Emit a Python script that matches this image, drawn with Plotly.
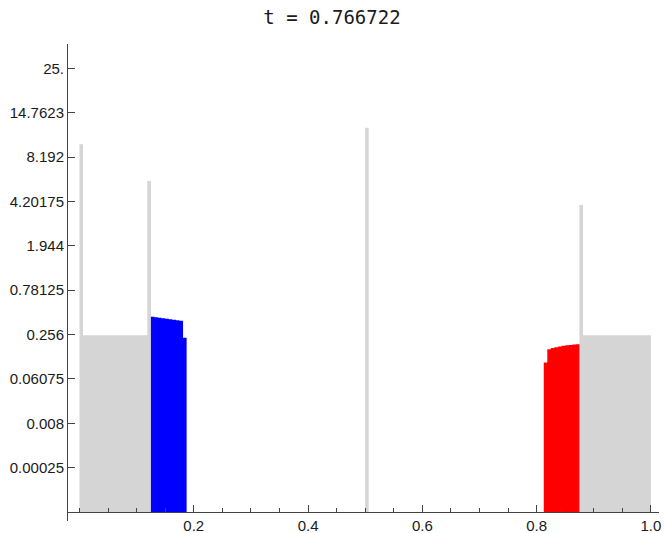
import plotly.graph_objects as go

# ---- data ----
title_text = "t = 0.766722"

# gray cells: edges and values (zero where empty)
gray_edges = [0.0, 0.00625, 0.11875, 0.125, 0.5, 0.50625, 0.875, 0.88125, 1.0]
gray_vals = [9.79, 0.25, 5.78, 0.0, 12.18, 0.0, 3.97, 0.25]

# blue cells (0.125 .. 0.1875)
blue_edges = [0.125, 0.13125, 0.1375, 0.14375, 0.15, 0.15625, 0.1625, 0.16875, 0.175, 0.18125, 0.1875]
blue_vals = [0.412, 0.407, 0.402, 0.397, 0.392, 0.387, 0.382, 0.377, 0.372, 0.234]

# red cells (0.8125 .. 0.875)
red_edges = [0.8125, 0.81875, 0.825, 0.83125, 0.8375, 0.84375, 0.85, 0.85625, 0.8625, 0.86875, 0.875]
red_vals = [0.109, 0.166, 0.172, 0.177, 0.181, 0.184, 0.187, 0.189, 0.191, 0.193]

ytick_values = [0.00025, 0.008, 0.06075, 0.256, 0.78125, 1.944, 4.20175, 8.192, 14.7623, 25.0]
ytick_labels = ["0.00025", "0.008", "0.06075", "0.256", "0.78125", "1.944", "4.20175", "8.192", "14.7623", "25."]
xtick_values = [0.2, 0.4, 0.6, 0.8, 1.0]
xtick_labels = ["0.2", "0.4", "0.6", "0.8", "1.0"]


def tr(v):
    # power scale used by the chart: position ~ (4000*y)^(1/5)
    return (4000.0 * v) ** 0.2


def step_trace(edges, vals, color):
    xs = list(edges)
    us = [tr(v) for v in vals] + [tr(vals[-1])]
    return go.Scatter(
        x=xs, y=us, mode="lines", line=dict(width=0, shape="hv", color=color),
        fill="tozeroy", fillcolor=color, hoverinfo="skip", showlegend=False,
    )


fig = go.Figure()
fig.add_trace(step_trace(gray_edges, gray_vals, "#d5d5d5"))
fig.add_trace(step_trace(blue_edges, blue_vals, "#0000ff"))
fig.add_trace(step_trace(red_edges, red_vals, "#ff0000"))

W, H = 664, 533
ml, mr, mt, mb = 68, 5, 44, 12
u_lo, u_hi = -0.203, 10.548
x_pos = (0 - u_lo) / (u_hi - u_lo)

axis_col = "#444444"
lab_font = dict(family="Liberation Sans, Arial, sans-serif", size=15, color="#1a1a1a")

fig.update_layout(
    width=W, height=H,
    margin=dict(l=ml, r=mr, t=mt, b=mb, pad=0, autoexpand=False),
    paper_bgcolor="white", plot_bgcolor="white",
    title=dict(text=title_text, x=0.5, xref="container", xanchor="center",
               y=1 - 17.5 / H, yref="container", yanchor="middle",
               font=dict(family="DejaVu Sans Mono, monospace", size=19, color="#1a1a1a")),
    xaxis=dict(
        range=[-0.0201, 1.0142], anchor="free", position=x_pos,
        showgrid=False, zeroline=False, showline=True, linecolor=axis_col, linewidth=1,
        tickmode="array", tickvals=xtick_values, ticktext=xtick_labels,
        ticks="inside", ticklen=7, tickcolor=axis_col, tickwidth=1,
        tickfont=lab_font,
        minor=dict(tickmode="linear", tick0=0, dtick=0.05, ticks="inside", ticklen=4,
                   tickcolor=axis_col, tickwidth=1, showgrid=False),
    ),
    yaxis=dict(
        range=[u_lo, u_hi],
        showgrid=False, zeroline=False, showline=True, linecolor=axis_col, linewidth=1,
        tickmode="array", tickvals=[tr(v) for v in ytick_values], ticktext=ytick_labels,
        ticks="inside", ticklen=7, tickcolor=axis_col, tickwidth=1,
        tickfont=lab_font,
    ),
)

fig.write_html("out.html")
